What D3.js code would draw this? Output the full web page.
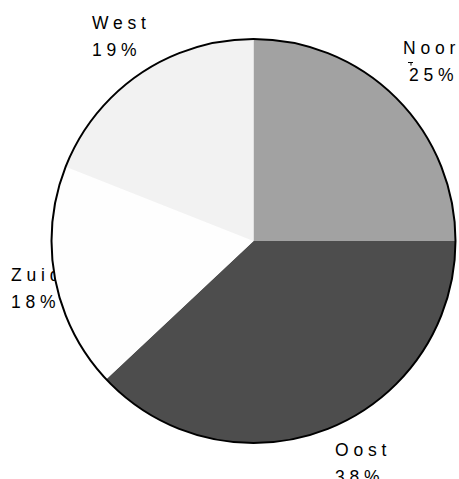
<!DOCTYPE html>
<html>
<head>
<meta charset="utf-8">
<script src="https://cdn.jsdelivr.net/npm/d3@7"></script>
<style>
  html, body { margin: 0; padding: 0; background: #ffffff; }
  svg { display: block; }
  text { font-family: "Liberation Sans", Arial, sans-serif; font-size: 17.5px; fill: #000; letter-spacing: 4.8px; }
</style>
</head>
<body>
<div id="chart"></div>
<script>
const categories = ["Noord", "Oost", "Zuid", "West"];
const values = [25, 38, 18, 19];
const percentLabels = ["25%", "38%", "18%", "19%"];
const colors = ["#a2a2a2", "#4d4d4d", "#fefefe", "#f2f2f2"];

const width = 459, height = 479;
const cx = 253.5, cy = 241, radius = 202;

const svg = d3.select("#chart").append("svg")
  .attr("width", width).attr("height", height);

// label anchor positions (left x, first baseline y)
const labelPos = [[403, 53.5], [335, 455.5], [11, 280.5], [92, 28.5]];

const labels = svg.append("g");
categories.forEach((c, i) => {
  const t = labels.append("text").attr("x", labelPos[i][0]).attr("y", labelPos[i][1]);
  t.append("tspan").attr("x", labelPos[i][0]).text(c);
  t.append("tspan").attr("x", labelPos[i][0] + (i === 0 ? 6 : 0)).attr("dy", 27).text(percentLabels[i]);
});
// small leader tick near Noord label
labels.append("path").attr("d", "M408,62.5H413M411,62.5V65.5")
  .attr("stroke", "#000").attr("stroke-width", 1).attr("fill", "none");

const pie = d3.pie().sort(null).value(d => d)(values);
const arc = d3.arc().innerRadius(0).outerRadius(radius);

const g = svg.append("g").attr("transform", `translate(${cx},${cy})`);
g.selectAll("path.slice").data(pie).join("path")
  .attr("class", "slice")
  .attr("d", arc)
  .attr("fill", (d, i) => colors[i]);

g.append("circle").attr("r", radius)
  .attr("fill", "none").attr("stroke", "#000").attr("stroke-width", 2);
</script>
</body>
</html>
